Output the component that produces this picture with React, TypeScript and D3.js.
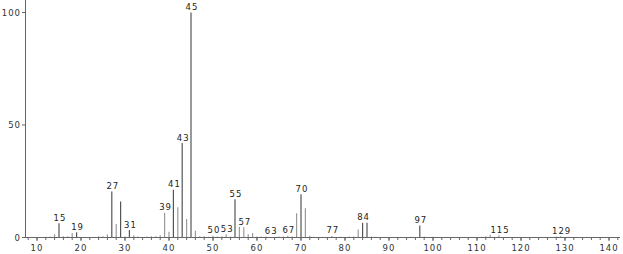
import React from "react";
import * as d3 from "d3";

const mz = [12, 13, 14, 15, 16, 17, 18, 19, 24, 25, 26, 27, 28, 29, 30, 31, 32, 33, 35, 36, 37, 38, 39, 40, 41, 42, 43, 44, 45, 46, 47, 48, 49, 50, 51, 52, 53, 54, 55, 56, 57, 58, 59, 60, 61, 62, 65, 66, 67, 68, 69, 70, 71, 72, 73, 77, 79, 81, 82, 83, 84, 85, 86, 87, 95, 97, 98, 100, 111, 112, 113, 115, 128, 129];
const intensity = [0.3, 0.5, 1.5, 6.3, 0.6, 0.6, 2.0, 2.3, 0.6, 0.6, 1.3, 20.4, 6.0, 16.0, 0.5, 3.3, 1.0, 0.5, 0.5, 0.6, 0.6, 1.0, 11.0, 2.6, 21.2, 13.4, 42.0, 8.2, 100, 3.0, 0.6, 0.6, 0.3, 0.8, 0.4, 0.5, 1.5, 0.4, 17.0, 4.8, 4.6, 1.5, 2.0, 0.5, 0.4, 0.4, 0.4, 0.5, 0.8, 0.5, 10.8, 19.2, 13.0, 0.8, 0.3, 0.7, 0.3, 0.4, 0.4, 3.6, 6.6, 6.6, 0.5, 0.3, 0.3, 5.3, 0.5, 0.3, 0.3, 0.6, 1.2, 1.0, 0.5, 0.6];
const labeled = [15, 19, 27, 29, 31, 39, 41, 43, 45, 50, 53, 55, 57, 63, 67, 70, 77, 84, 97, 115, 129];
const labelText = ["15", "19", "27", "", "31", "39", "41", "43", "45", "50", "53", "55", "57", "63", "67", "70", "77", "84", "97", "115", "129"];
const labelHeights = [6.3, 2.3, 20.4, 16.0, 3.3, 11.0, 21.2, 42.0, 100, 0.8, 1.5, 17.0, 4.6, 0.4, 0.8, 19.2, 0.7, 6.6, 5.3, 1.0, 0.6];
const xTicks = [10, 20, 30, 40, 50, 60, 70, 80, 90, 100, 110, 120, 130, 140];
const yTicks = [0, 50, 100];

export default function App() {
  const W = 623, H = 254;
  const x = d3.scaleLinear().domain([10, 140]).range([37, 609]);
  const y = d3.scaleLinear().domain([0, 100]).range([237.5, 12.5]);
  const minor = d3.range(8, 143, 2);
  const font = "'DejaVu Sans', sans-serif";
  const darkSet = new Set([15, 19, 27, 29, 31, 41, 43, 45, 55, 70, 84, 85, 97]);
  return (
    <svg width={W} height={H} style={{ position: "absolute", left: 0, top: 0, background: "#fff" }}>
      {/* bars */}
      {mz.map((m, i) => (
        <line key={m} x1={x(m)} x2={x(m)} y1={y(0)} y2={y(intensity[i])}
          stroke={darkSet.has(m) ? "#555" : "#9a9a9a"} strokeWidth={1.2} />
      ))}
      {/* axes */}
      <line x1={25.5} x2={25.5} y1={0} y2={238} stroke="#666" strokeWidth={1} />
      <line x1={25} x2={620} y1={237.5} y2={237.5} stroke="#666" strokeWidth={1} />
      {minor.map((t) => (
        <line key={"m" + t} x1={x(t)} x2={x(t)} y1={237.5} y2={240} stroke="#666" strokeWidth={1} />
      ))}
      {xTicks.map((t) => (
        <g key={"x" + t}>
          <line x1={x(t)} x2={x(t)} y1={237.5} y2={241} stroke="#666" strokeWidth={1} />
          <text x={x(t)} y={251} textAnchor="middle" fontFamily={font} fontSize={8.5} fill="#333" letterSpacing={1}>{t}</text>
        </g>
      ))}
      {yTicks.map((t) => (
        <g key={"y" + t}>
          <line x1={22} x2={25.5} y1={y(t)} y2={y(t)} stroke="#666" strokeWidth={1} />
          <text x={21} y={y(t) + 3} textAnchor="end" fontFamily={font} fontSize={8.5} fill="#333" letterSpacing={1}>{t}</text>
        </g>
      ))}
      {/* peak labels */}
      {labeled.map((m, i) => labelText[i] ? (
        <text key={"l" + m} x={x(m) + 1} y={y(labelHeights[i]) - 2.5} textAnchor="middle" fontFamily={font}
          fontSize={8.5} fill="#222" letterSpacing={1}>{labelText[i]}</text>
      ) : null)}
    </svg>
  );
}
